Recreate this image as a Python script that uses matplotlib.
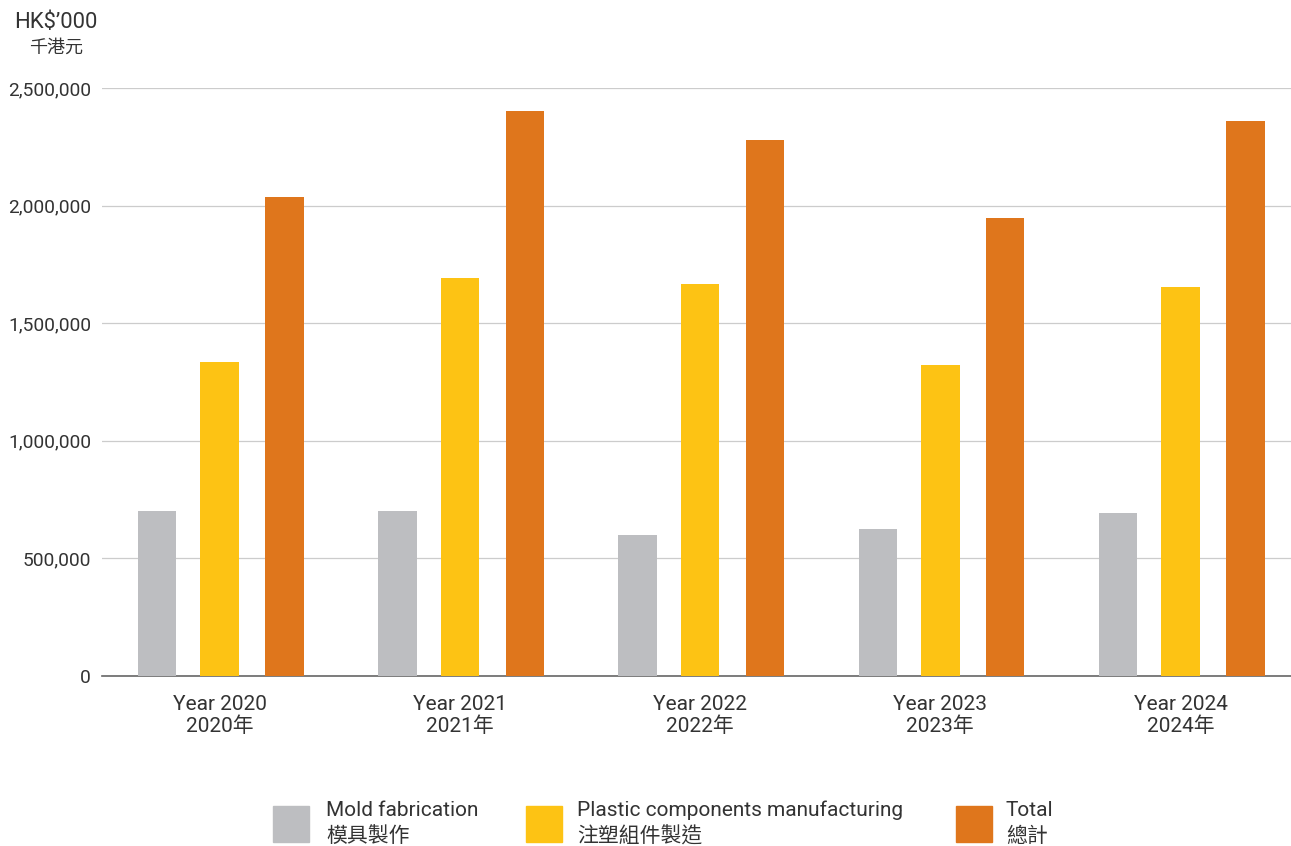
import matplotlib
matplotlib.use("Agg")
from matplotlib import pyplot as plt
from matplotlib.patches import Rectangle
import numpy as np

plt.rcParams['font.family'] = ['Roboto', 'Noto Sans CJK TC', 'DejaVu Sans']

years = ["Year 2020\n2020年", "Year 2021\n2021年", "Year 2022\n2022年",
         "Year 2023\n2023年", "Year 2024\n2024年"]
mold = [700000, 700000, 600000, 623000, 692000]
plastic = [1335000, 1692000, 1667000, 1322000, 1654000]
total = [2036000, 2402000, 2278000, 1947000, 2360000]

series_names = ["Mold fabrication\n模具製作",
                "Plastic components manufacturing\n注塑組件製造",
                "Total\n總計"]
colors = ["#BDBEC1", "#FDC314", "#DF761C"]
text_color = "#333333"

W, H = 1291, 846
fig = plt.figure(figsize=(W / 100, H / 100), dpi=100)
ax = fig.add_axes([102 / W, 1 - 676 / H, 1 - 102 / W, (676 - 88) / H])

x = np.arange(len(years))
width = 0.16
offsets = [-0.26, 0.0, 0.27]
for vals, off, c in zip([mold, plastic, total], offsets, colors):
    ax.bar(x + off, vals, width, color=c, zorder=3)

ax.set_xlim(-0.49, 4.46)
ax.set_ylim(0, 2500000)
ax.set_yticks(np.arange(0, 2500001, 500000))
ax.yaxis.set_major_formatter(matplotlib.ticker.FuncFormatter(lambda v, p: f"{int(v):,}"))
ax.grid(axis='y', color='#CCCCCC', linewidth=0.9, zorder=0)
ax.set_xticks(x)
ax.set_xticklabels(years, linespacing=1.1)
ax.tick_params(axis='y', length=0, labelsize=13.8, colors=text_color, pad=8)
ax.tick_params(axis='x', length=0, labelsize=15, colors=text_color, pad=14)
for s in ['top', 'right', 'left']:
    ax.spines[s].set_visible(False)
ax.spines['bottom'].set_color('#666666')
ax.spines['bottom'].set_linewidth(1.2)

fig.text(14 / W, 1 - 22 / H, "HK$’000", fontsize=15.8, color=text_color, va='center', ha='left')
fig.text(56 / W, 1 - 48 / H, "千港元", fontsize=13, color=text_color, va='center', ha='center')

# legend
sq_x = [273, 526, 956]
txt_x = [326, 577, 1006]
for sx, tx, name, c in zip(sq_x, txt_x, series_names, colors):
    fig.add_artist(Rectangle((sx / W, 1 - 842 / H), 36 / W, 36 / H,
                             transform=fig.transFigure, color=c))
    en, zh = name.split("\n")
    fig.text(tx / W, 1 - 810 / H, en, fontsize=15, color=text_color, va='center', ha='left')
    fig.text(tx / W, 1 - 836 / H, zh, fontsize=15, color=text_color, va='center', ha='left')

fig.savefig("out.png", dpi=100)
